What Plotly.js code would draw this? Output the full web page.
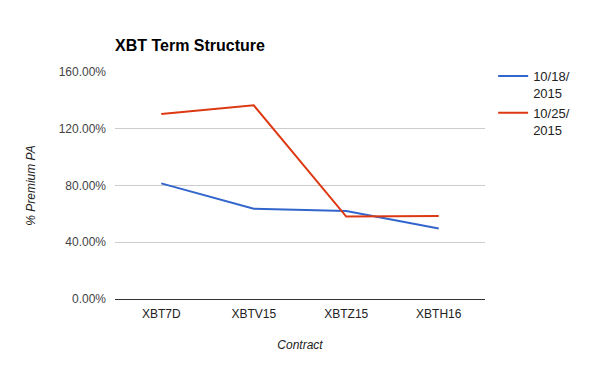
<!DOCTYPE html>
<html><head><meta charset="utf-8">
<script src="https://cdn.plot.ly/plotly-3.0.1.min.js"></script>
<style>body{margin:0;background:#fff}#chart{width:600px;height:371px}</style>
</head><body><div id="chart"></div>
<script>
const contracts = ["XBT7D", "XBTV15", "XBTZ15", "XBTH16"];
const series1Name = "10/18/<br>2015";
const series1 = [81.5, 63.7, 62.0, 49.7];
const series2Name = "10/25/<br>2015";
const series2 = [130.4, 136.5, 58.1, 58.5];
const yTicks = [0, 40, 80, 120, 160];

const font = "Arial, 'Liberation Sans', sans-serif";
const traces = [
  {x: contracts, y: series1, name: series1Name, type: 'scatter', mode: 'lines',
   line: {color: '#3366cc', width: 2}},
  {x: contracts, y: series2, name: series2Name, type: 'scatter', mode: 'lines',
   line: {color: '#dc3912', width: 2}}
];
const layout = {
  width: 600, height: 371,
  margin: {l: 115, r: 115, t: 71.5, b: 71.5, pad: 0},
  paper_bgcolor: '#fff', plot_bgcolor: '#fff',
  font: {family: font, size: 12, color: '#444'},
  title: {text: '<b>XBT Term Structure</b>', x: 115/600, xanchor: 'left', y: 1 - 45/371, yanchor: 'middle',
    font: {family: font, size: 16, color: '#000'}},
  xaxis: {type: 'category', range: [-0.5, 3.5], showgrid: false, zeroline: false, showline: false,
    ticks: '', tickfont: {family: font, size: 12, color: '#222'}, ticklabelstandoff: 6,
    title: {text: '<i>Contract</i>', font: {family: font, size: 12, color: '#222'}, standoff: 20}},
  yaxis: {range: [0, 160], tickvals: yTicks, ticktext: yTicks.map(v => v.toFixed(2) + '%'),
    showgrid: true, gridcolor: '#cccccc', gridwidth: 1, zeroline: true, zerolinecolor: '#333', zerolinewidth: 1,
    showline: false, ticks: '', ticklabelstandoff: 8, tickfont: {family: font, size: 12, color: '#444'},
    title: {text: '<i>% Premium PA</i>', font: {family: font, size: 12, color: '#222'}, standoff: 20}},
  showlegend: true,
  legend: {x: 1.022, xanchor: 'left', y: 1.048, yanchor: 'top', valign: 'top', itemwidth: 30,
    font: {family: font, size: 13, color: '#222'}, tracegroupgap: 8, bgcolor: 'rgba(0,0,0,0)'}
};
Plotly.newPlot('chart', traces, layout, {displayModeBar: false, staticPlot: true});
</script></body></html>
